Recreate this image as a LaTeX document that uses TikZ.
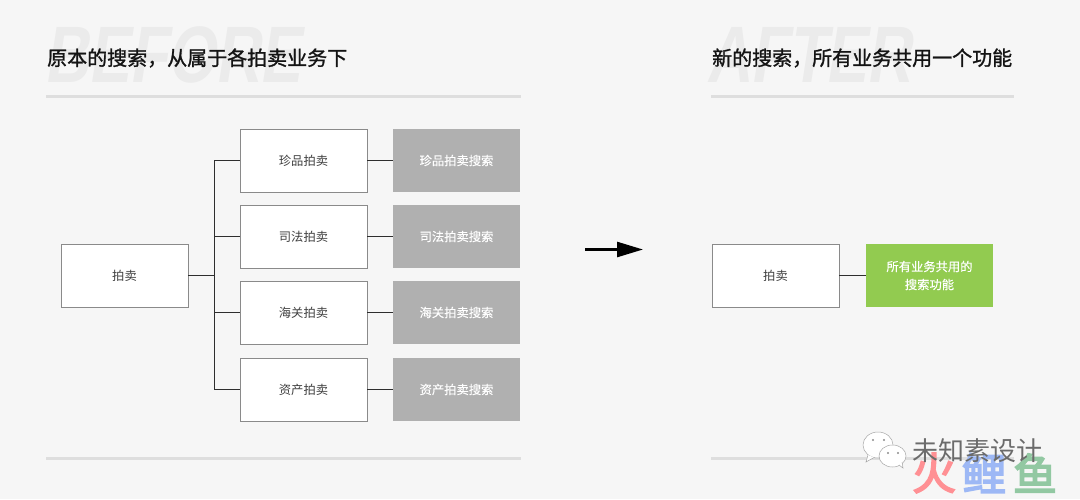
\documentclass[tikz,border=0pt]{standalone}
\usepackage{fontspec}
\usetikzlibrary{arrows.meta}
\setmainfont{Noto Sans CJK SC}
\newfontfamily\titlefont[FakeBold=1.3]{Noto Sans CJK SC}
\newfontfamily\whitefont[FakeBold=0.3]{Noto Sans CJK SC}
\newfontfamily\wmfont[FakeBold=3.5]{Noto Sans CJK SC}
\newfontfamily\ghostfont[FakeSlant=0.2]{Liberation Sans Bold}
\definecolor{bgc}{HTML}{F6F6F6}
\definecolor{rulec}{HTML}{DEDEDE}
\definecolor{ghostc}{HTML}{EBEBEB}
\definecolor{greyc}{HTML}{B0B0B0}
\definecolor{greenc}{HTML}{92CB50}
\definecolor{edgec}{HTML}{8A8A8A}
\definecolor{linec}{HTML}{2E2E2E}
\definecolor{wmred}{HTML}{FF9094}
\definecolor{wmblue}{HTML}{9DB8F5}
\definecolor{wmgreen}{HTML}{92C8A2}
\tikzset{
  x=1pt,y=-1pt,
  boxbase/.style={minimum width=127pt,minimum height=63pt,inner sep=0pt,align=center,font=\fontsize{12.3}{18}\selectfont},
  plainbox/.style={boxbase,draw=edgec,line width=0.8pt,fill=white,text=black!75},
  greybox/.style={boxbase,fill=greyc,text=white,font=\whitefont\fontsize{12.3}{18}\selectfont},
  greenbox/.style={boxbase,fill=greenc,text=white,font=\whitefont\fontsize{12.3}{18}\selectfont},
  conn/.style={draw=linec,line width=1pt},
  rulebar/.style={draw=rulec,line width=3pt},
  titletext/.style={anchor=west,inner sep=0pt,text=black!92,font=\titlefont\fontsize{20}{24}\selectfont},
  ghost/.style={anchor=west,inner sep=0pt,text=ghostc,xscale=0.77,font=\ghostfont\fontsize{80}{80}\selectfont},
  wmbig/.style={inner sep=0pt,font=\wmfont\fontsize{44}{44}\selectfont},
  wmtext/.style={inner sep=0pt,text=black!58,font=\fontsize{26}{26}\selectfont},
  bubble/.style={fill=white,draw=black!35,line width=0.5pt},
  eye/.style={fill=black!45}
}
\begin{document}
\begin{tikzpicture}
\useasboundingbox[fill=bgc] (0,0) rectangle (1080,499);
% ghost headings
\node[ghost] (gb) at (44,55) {BEFORE};
\node[ghost] (ga) at (706,55) {AFTER};
% titles
\node[titletext] (t1) at (47,58) {原本的搜索，从属于各拍卖业务下};
\node[titletext] (t2) at (712,58) {新的搜索，所有业务共用一个功能};
% rules
\coordinate (r1a) at (46,96); \coordinate (r1b) at (521,96);
\coordinate (r2a) at (711,96); \coordinate (r2b) at (1014,96);
\coordinate (r3a) at (46,458); \coordinate (r3b) at (521,458);
\coordinate (r4a) at (711,458); \coordinate (r4b) at (1014,458);
\draw[rulebar] (r1a) -- (r1b);
\draw[rulebar] (r2a) -- (r2b);
\draw[rulebar] (r3a) -- (r3b);
\draw[rulebar] (r4a) -- (r4b);
% left tree
\node[plainbox] (root) at (124.5,275.5) {拍卖};
\node[plainbox] (a1) at (303.5,160.5) {珍品拍卖};
\node[plainbox] (a2) at (303.5,236.5) {司法拍卖};
\node[plainbox] (a3) at (303.5,312.5) {海关拍卖};
\node[plainbox] (a4) at (303.5,389.5) {资产拍卖};
\node[greybox] (b1) at (456.5,160.5) {珍品拍卖搜索};
\node[greybox] (b2) at (456.5,236.5) {司法拍卖搜索};
\node[greybox] (b3) at (456.5,312.5) {海关拍卖搜索};
\node[greybox] (b4) at (456.5,389.5) {资产拍卖搜索};
\coordinate (junc) at (214,275.5);
\draw[conn] (root.east) -- (junc);
\foreach \k in {1,2,3,4}{
  \draw[conn] (junc) |- (a\k.west);
  \draw[conn] (a\k.east) -- (b\k.west);
}
% arrow
\coordinate (arrS) at (585,249.5); \coordinate (arrE) at (643,249.5);
\draw[line width=2.6pt,black,-{Triangle[length=26pt,width=15pt]}] (arrS) -- (arrE);
% right
\node[plainbox] (c) at (775.5,275.5) {拍卖};
\node[greenbox] (d) at (929.5,275.5) {所有业务共用的\\搜索功能};
\draw[conn] (c.east) -- (d.west);
% watermark
\node[wmbig,text=wmred] (w1) at (934,473) {火};
\node[wmbig,text=wmblue] (w2) at (984,473) {鲤};
\node[wmbig,text=wmgreen] (w3) at (1035,473) {鱼};
\draw[bubble] (878,445) ellipse (15pt and 13pt);
\draw[bubble] (868,455) -- (866,462) -- (874,457.5);
\fill[eye] (873,440) circle (1.2pt) (884,440) circle (1.2pt);
\draw[bubble] (892.5,456) ellipse (13.5pt and 11pt);
\draw[bubble] (899,465) -- (903,468) -- (902,462);
\fill[eye] (888,453) circle (1.1pt) (898,453) circle (1.1pt);
\node[wmtext] (w0) at (977.5,451) {未知素设计};
\end{tikzpicture}
\end{document}
